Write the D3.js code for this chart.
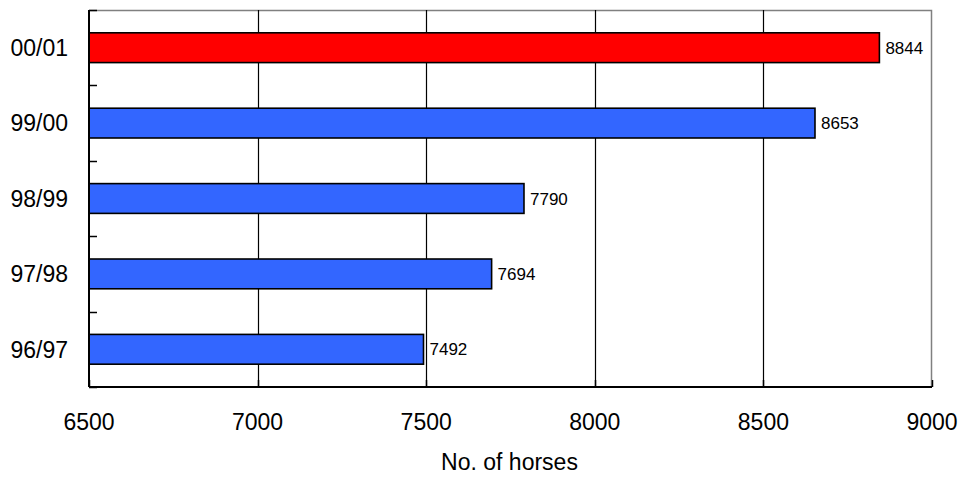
<!DOCTYPE html>
<html>
<head>
<meta charset="utf-8">
<script src="https://cdn.jsdelivr.net/npm/d3@7"></script>
<style>
  body { margin: 0; background: #fff; }
  text { font-family: "Liberation Sans", Arial, sans-serif; fill: #000; }
</style>
</head>
<body>
<div id="chart"></div>
<script>
// data
var seasons = ['00/01', '99/00', '98/99', '97/98', '96/97'];
var horses = [8844, 8653, 7790, 7694, 7492];
var barColors = ['#ff0000', '#3366ff', '#3366ff', '#3366ff', '#3366ff'];
var xTicks = [6500, 7000, 7500, 8000, 8500, 9000];

var width = 964;
var height = 477;

// plot box
var margin = { top: 10, right: 32, bottom: 90, left: 89 };
var chartWidth = width - margin.left - margin.right;
var chartHeight = height - margin.top - margin.bottom;

var svg = d3.select('#chart').append('svg')
    .attr('width', width)
    .attr('height', height)
    .append('g')
    .attr('transform', `translate(${margin.left}, ${margin.top})`);

var xScale = d3.scaleLinear()
    .domain([6500, 9000])
    .range([0, chartWidth]);

var yScale = d3.scaleBand()
    .domain(seasons)
    .range([0, chartHeight]);

var barH = yScale.bandwidth() * 0.395;

// top + right border (grey)
svg.append('path')
    .attr('d', `M0,0.5H${chartWidth - 0.5}V${chartHeight}`)
    .attr('fill', 'none')
    .attr('stroke', '#808080')
    .attr('stroke-width', 1.5);

// vertical gridlines
svg.selectAll('.grid')
    .data(xTicks.slice(1, -1))
    .enter()
    .append('line')
    .attr('x1', d => Math.round(xScale(d)) + 0.5)
    .attr('x2', d => Math.round(xScale(d)) + 0.5)
    .attr('y1', 0)
    .attr('y2', chartHeight)
    .attr('stroke', '#000')
    .attr('stroke-width', 1.2);

// bars
var rows = seasons.map((s, i) => ({ season: s, value: horses[i], color: barColors[i] }));

svg.selectAll('.bar')
    .data(rows)
    .enter()
    .append('rect')
    .attr('x', 0)
    .attr('y', d => yScale(d.season) + (yScale.bandwidth() - barH) / 2)
    .attr('width', d => xScale(d.value))
    .attr('height', barH)
    .attr('fill', d => d.color)
    .attr('stroke', '#000')
    .attr('stroke-width', 1.6);

// value labels
svg.selectAll('.val')
    .data(rows)
    .enter()
    .append('text')
    .attr('x', d => xScale(d.value) + 6)
    .attr('y', d => yScale(d.season) + yScale.bandwidth() / 2)
    .attr('dy', '0.36em')
    .style('font-size', '17px')
    .text(d => d.value);

// left axis: line + inward ticks at band edges
var bandEdges = seasons.map(s => yScale(s)).concat([chartHeight]);
svg.append('line')
    .attr('x1', 0).attr('x2', 0)
    .attr('y1', 0).attr('y2', chartHeight)
    .attr('stroke', '#000').attr('stroke-width', 2);
svg.selectAll('.ytick')
    .data(bandEdges)
    .enter()
    .append('line')
    .attr('x1', 0).attr('x2', 8)
    .attr('y1', d => Math.round(d) + 0.5)
    .attr('y2', d => Math.round(d) + 0.5)
    .attr('stroke', '#000').attr('stroke-width', 1.5);

svg.selectAll('.ylab')
    .data(seasons)
    .enter()
    .append('text')
    .attr('x', -21)
    .attr('y', d => yScale(d) + yScale.bandwidth() / 2)
    .attr('dy', '0.36em')
    .attr('text-anchor', 'end')
    .style('font-size', '23px')
    .text(d => d);

// bottom axis: line + upward ticks
svg.append('line')
    .attr('x1', 0).attr('x2', chartWidth)
    .attr('y1', chartHeight).attr('y2', chartHeight)
    .attr('stroke', '#000').attr('stroke-width', 2);
svg.selectAll('.xtick')
    .data(xTicks)
    .enter()
    .append('line')
    .attr('x1', d => Math.round(xScale(d)) + 0.5)
    .attr('x2', d => Math.round(xScale(d)) + 0.5)
    .attr('y1', chartHeight - 7)
    .attr('y2', chartHeight)
    .attr('stroke', '#000').attr('stroke-width', 1.5);

svg.selectAll('.xlab')
    .data(xTicks)
    .enter()
    .append('text')
    .attr('x', d => xScale(d))
    .attr('y', chartHeight + 43)
    .attr('text-anchor', 'middle')
    .style('font-size', '23px')
    .text(d => d);

// axis title
svg.append('text')
    .attr('x', chartWidth / 2 - 1)
    .attr('y', chartHeight + 83)
    .attr('text-anchor', 'middle')
    .style('font-size', '23px')
    .text('No. of horses');
</script>
</body>
</html>
